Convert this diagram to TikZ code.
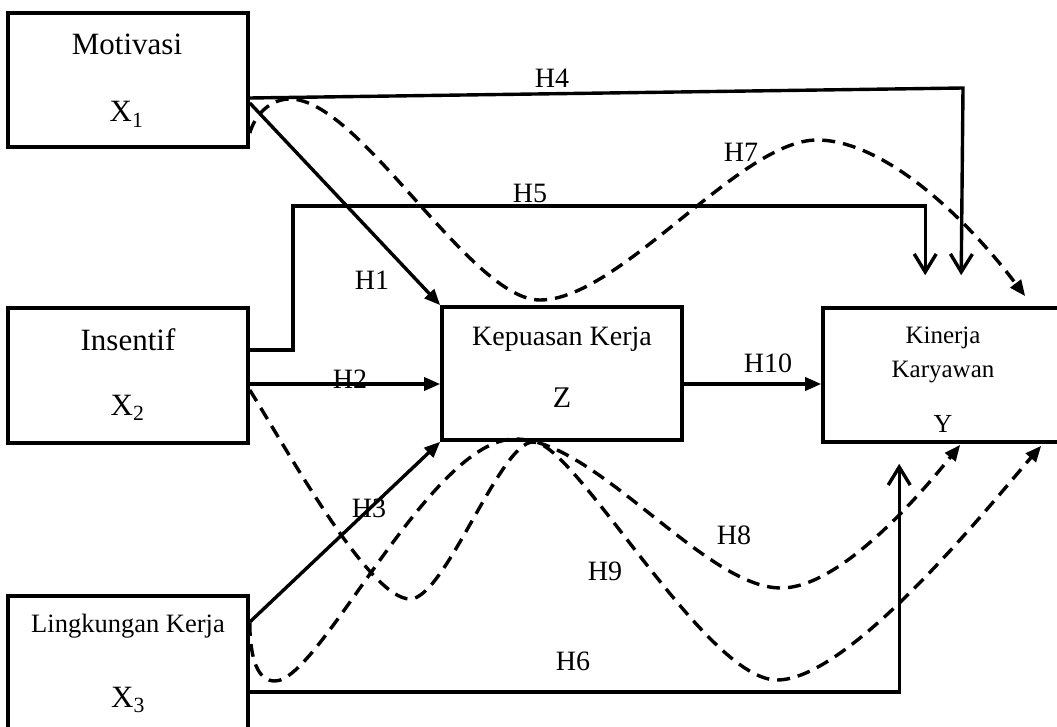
\documentclass[tikz,border=0pt]{standalone}
\usepackage{fontspec}
\setmainfont{Liberation Serif}
\usetikzlibrary{arrows.meta}
\begin{document}
\begin{tikzpicture}[x=1pt,y=-1pt,
  box/.style={draw, line width=3.6pt, minimum width=240pt, inner sep=0pt},
  con/.style={line width=3.4pt},
  dsh/.style={line width=3.4pt, dash pattern=on 13pt off 8pt},
  solidtip/.style={-{Triangle[length=16pt,width=13pt]}},
  barbtip/.style={-{Straight Barb[length=18pt,width=22pt]}},
  txt/.style={anchor=base, inner sep=0pt},
  big/.style={font=\fontsize{31}{33}\selectfont},
  lab/.style={txt, font=\fontsize{28}{30}\selectfont}]
\useasboundingbox (0,0) rectangle (1057,727);

% boxes
\node[box, minimum height=134pt] (m) at (128,80) {};
\node[box, minimum height=135pt] (i) at (128,375.5) {};
\node[box, minimum height=134pt] (l) at (128,663) {};
\node[box, minimum height=133pt] (z) at (562,373.5) {};
\node[box, minimum height=134pt] (k) at (943,375) {};

% box texts
\node[txt, big] (tm) at (127,55) {Motivasi};
\node[txt, big] (tx1) at (126.5,122) {X\textsubscript{1}};
\node[txt, big] (ti) at (128,350) {Insentif};
\node[txt, big] (tx2) at (127.5,415) {X\textsubscript{2}};
\node[txt, font=\fontsize{26.5}{28}\selectfont] (tl) at (128,632) {Lingkungan Kerja};
\node[txt, big] (tx3) at (128,707) {X\textsubscript{3}};
\node[txt, font=\fontsize{28}{30}\selectfont] (tz) at (562,345) {Kepuasan Kerja};
\node[txt, font=\fontsize{30}{32}\selectfont] (tzz) at (562,407) {Z};
\node[txt, font=\fontsize{25}{27}\selectfont] (tk1) at (943,343) {Kinerja};
\node[txt, font=\fontsize{25}{27}\selectfont] (tk2) at (943,377) {Karyawan};
\node[txt, font=\fontsize{26}{28}\selectfont] (tky) at (943,432) {Y};

% solid direct paths
\coordinate (c4) at (963,88);
\draw[con, barbtip] ([yshift=-18pt]m.east) -- (c4) -- ([xshift=140pt,yshift=31pt]k.north west);
\draw[con, barbtip] ([yshift=25.5pt]i.east) -- ++(43,0) -- ++(0,-144) -| ([xshift=104pt,yshift=31pt]k.north west);
\draw[con, barbtip] ([yshift=-29pt]l.east) -| ([xshift=78pt,yshift=-20pt]k.south west);
\draw[con, solidtip] ([yshift=-23pt]m.east) -- (z.north west);
\draw[con, solidtip] ([yshift=-8.5pt]i.east) coordinate (a2) -- (a2 -| z.west);
\draw[con, solidtip] ([yshift=41pt]l.east) -- (z.south west);
\draw[con, solidtip] ([yshift=-10.5pt]z.east) coordinate (a10) -- (a10 -| k.west);

% dashed mediation paths
\draw[dsh, solidtip] ([yshift=-53pt]m.east)
  .. controls (255,115) and (270,99) .. (290,99)
  .. controls (360,99) and (470,300) .. (540,300)
  .. controls (620,300) and (740,140) .. (817,140)
  .. controls (880,140) and (960,210) .. ([xshift=204pt,yshift=10pt]k.north west);
\draw[dsh, solidtip] ([yshift=-14.5pt]i.east)
  .. controls (290,455) and (370,599) .. (410,599)
  .. controls (445,599) and (500,442) .. (533,442)
  .. controls (575,442) and (705,680) .. (777,680)
  .. controls (850,680) and (990,505) .. ([xshift=220pt,yshift=-2pt]k.south west);
\draw[dsh, solidtip] ([yshift=40pt]l.east)
  .. controls (250,660) and (258,681) .. (275,681)
  .. controls (320,681) and (430,439) .. (515,439)
  .. controls (595,439) and (705,588) .. (781,588)
  .. controls (840,588) and (920,495) .. ([xshift=139pt,yshift=-1pt]k.south west);

% labels
\node[lab] (h1) at (372,290) {H1};
\node[lab] (h2) at (350,388) {H2};
\node[lab] (h3) at (369,517) {H3};
\node[lab] (h4) at (552,88) {H4};
\node[lab] (h5) at (530,203) {H5};
\node[lab] (h6) at (573,670) {H6};
\node[lab] (h7) at (741,162) {H7};
\node[lab] (h8) at (734,544) {H8};
\node[lab] (h9) at (605,580) {H9};
\node[lab] (h10) at (768,372) {H10};
\end{tikzpicture}
\end{document}
